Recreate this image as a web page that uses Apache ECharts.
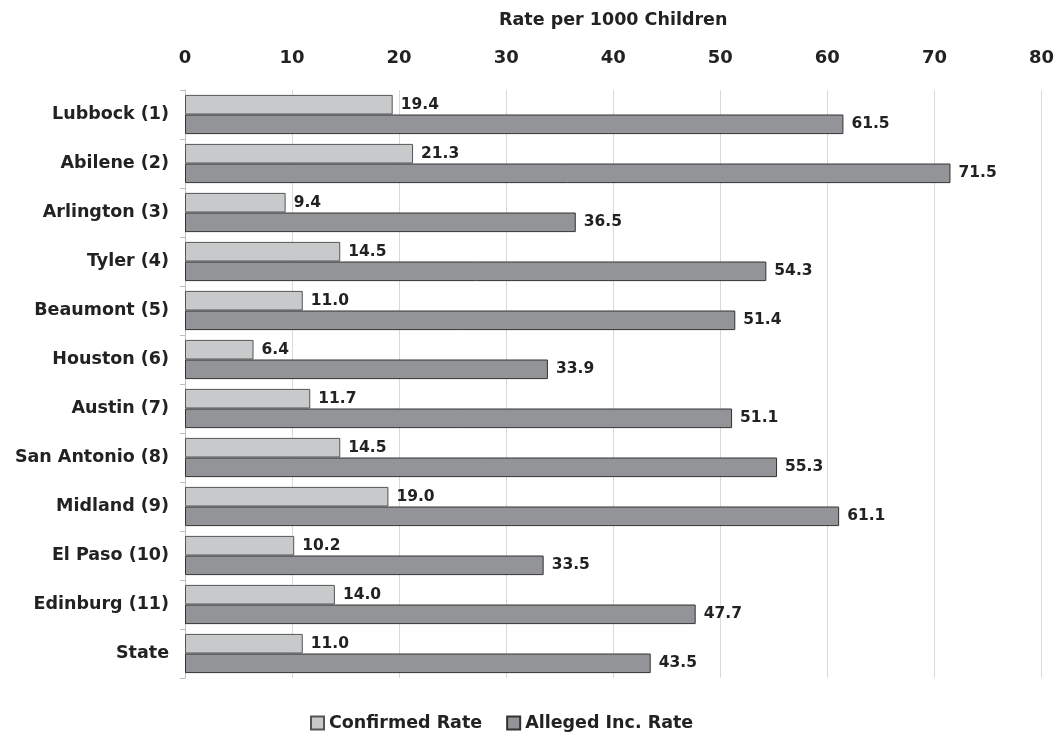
<!DOCTYPE html>
<html><head><meta charset="utf-8">
<script src="https://cdn.jsdelivr.net/npm/echarts@6/dist/echarts.min.js"></script>
<style>html,body{margin:0;padding:0;background:#fff}#c{width:1057px;height:732px}</style>
</head><body><div id="c"></div>
<script>
const categories = ["Lubbock (1)","Abilene (2)","Arlington (3)","Tyler (4)","Beaumont (5)","Houston (6)","Austin (7)","San Antonio (8)","Midland (9)","El Paso (10)","Edinburg (11)","State"];
const confirmedRate = [19.4,21.3,9.4,14.5,11.0,6.4,11.7,14.5,19.0,10.2,14.0,11.0];
const allegedRate = [61.5,71.5,36.5,54.3,51.4,33.9,51.1,55.3,61.1,33.5,47.7,43.5];
const seriesNames = ["Confirmed Rate","Alleged Inc. Rate"];
const axisTitle = "Rate per 1000 Children";
const FONT = "'DejaVu Sans', sans-serif";
const chart = echarts.init(document.getElementById('c'));
const lbl = {show:true, position:'right', distance:8, color:'#222', fontFamily:FONT, fontWeight:'bold', fontSize:15.5, formatter:p=>p.value.toFixed(1)};
chart.setOption({
  animation:false,
  grid:{left:185, right:15.5, top:90, bottom:54},
  legend:{top:709, left:305, itemWidth:13, itemHeight:13, itemGap:24, icon:'rect',
    textStyle:{fontFamily:FONT, fontWeight:'bold', fontSize:17.5, color:'#222'}, data:seriesNames},
  xAxis:{type:'value', position:'top', min:0, max:80, interval:10,
    name:axisTitle, nameLocation:'middle', nameGap:61,
    nameTextStyle:{fontFamily:FONT, fontWeight:'bold', fontSize:17.5, color:'#222'},
    axisLabel:{fontFamily:FONT, fontWeight:'bold', fontSize:18, color:'#222', margin:23},
    axisLine:{show:false}, axisTick:{show:false},
    splitLine:{lineStyle:{color:'#d9d9d9', width:1}}},
  yAxis:{type:'category', inverse:true, data:categories,
    axisLine:{lineStyle:{color:'#bfbfbf'}}, axisTick:{show:true, length:5, lineStyle:{color:'#bfbfbf'}},
    axisLabel:{fontFamily:FONT, fontWeight:'bold', fontSize:17.5, color:'#222', margin:16}},
  series:[
    {name:seriesNames[0], type:'bar', data:confirmedRate, barGap:'0%', barCategoryGap:'20%',
      itemStyle:{color:'#c8c9cb', borderColor:'#555', borderWidth:1}, label:lbl},
    {name:seriesNames[1], type:'bar', data:allegedRate, barGap:'0%', barCategoryGap:'20%',
      itemStyle:{color:'#939498', borderColor:'#333', borderWidth:1}, label:lbl}
  ]
});
</script></body></html>
